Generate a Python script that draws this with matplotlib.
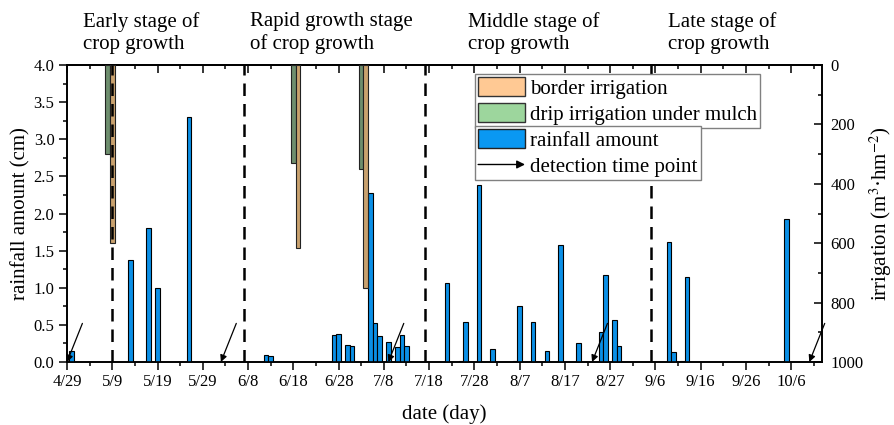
import numpy as np
import pandas as pd
import matplotlib
matplotlib.use('Agg')
import matplotlib.pyplot as plt
from matplotlib.patches import Patch, FancyArrowPatch
from matplotlib.legend_handler import HandlerBase
from matplotlib.ticker import MultipleLocator, FixedLocator, NullFormatter
import matplotlib.transforms as mtransforms

plt.rcParams['font.family'] = 'serif'
plt.rcParams['font.serif'] = ['Liberation Serif', 'DejaVu Serif']
plt.rcParams['mathtext.fontset'] = 'stix'

# daily rainfall (cm)
rain_dates = ['4/30', '5/13', '5/17', '5/19', '5/26', '6/12', '6/13', '6/27', '6/28',
              '6/30', '7/1', '7/5', '7/6', '7/7', '7/9', '7/11', '7/12', '7/13',
              '7/22', '7/25', '7/26', '7/29', '8/1', '8/6', '8/7', '8/10', '8/13',
              '8/16', '8/20', '8/25', '8/26', '8/28', '8/29', '9/9', '9/10', '9/12',
              '9/13', '10/5']
rain_cm = [0.15, 1.37, 1.80, 1.00, 3.30, 0.10, 0.08, 0.36, 0.38,
           0.23, 0.21, 2.27, 0.53, 0.35, 0.27, 0.20, 0.36, 0.21,
           1.06, 0.02, 0.54, 2.38, 0.18, 0.02, 0.75, 0.54, 0.15,
           1.58, 0.26, 0.40, 1.17, 0.57, 0.21, 1.61, 0.14, 0.01,
           1.14, 1.92]

# irrigation events (m3/hm2)
drip_dates = ['5/8', '6/18', '7/3']
drip_amount = [300, 330, 350]
border_dates = ['5/9', '6/19', '7/4']
border_amount = [600, 615, 750]

detect_dates = ['4/29', '6/2', '7/9', '8/23', '10/10']
stage_bounds = ['5/9', '6/7', '7/17', '9/5']
stage_names = ['Early stage of\ncrop growth', 'Rapid growth stage\nof crop growth',
               'Middle stage of\ncrop growth', 'Late stage of\ncrop growth']
tick_labels = ['4/29', '5/9', '5/19', '5/29', '6/8', '6/18', '6/28', '7/8', '7/18',
               '7/28', '8/7', '8/17', '8/27', '9/6', '9/16', '9/26', '10/6']

START = pd.Timestamp('2019-04-29')


def to_day(md):
    return (pd.to_datetime('2019/' + md, format='%Y/%m/%d') - START).days


def days(lst):
    return np.array([to_day(s) for s in lst])


class DetectionArrow:
    pass


class ArrowHandler(HandlerBase):
    def create_artists(self, legend, orig_handle, xdescent, ydescent,
                       width, height, fontsize, trans):
        y = height / 2 - ydescent
        arr = FancyArrowPatch((-xdescent, y), (width - xdescent, y),
                              arrowstyle='-|>', mutation_scale=12, color='k',
                              lw=1.0, shrinkA=0, shrinkB=0, transform=trans)
        return [arr]


fig = plt.figure(figsize=(8.94, 4.25), dpi=100)
ax = fig.add_axes([67 / 894, 63 / 425, 755 / 894, 297 / 425])
ax2 = ax.twinx()

# rainfall on the left axis
ax.bar(days(rain_dates), rain_cm, width=1.0, color='#0a8fe6',
       edgecolor='black', linewidth=0.8, zorder=3)

# irrigation hangs from the top on the inverted right axis
ax2.bar(days(drip_dates), drip_amount, width=1.0, color='#6e8e6e',
        edgecolor='#222222', linewidth=0.8, zorder=3)
ax2.bar(days(border_dates), border_amount, width=1.0, color='#c9a16e',
        edgecolor='#222222', linewidth=0.8, zorder=3)

# stage boundaries
for d in days(stage_bounds):
    ax2.axvline(d, color='black', lw=1.8, ls=(0, (5, 3.2)), zorder=4)

# detection time points
for d in days(detect_dates):
    ax.annotate('', xy=(d, 0), xytext=(d + 3.4, 0.52),
                arrowprops=dict(arrowstyle='-|>', color='black', lw=0.9,
                                mutation_scale=10, shrinkA=0, shrinkB=0),
                zorder=5)

# stage titles above the plot
stage_text_x = [3.5, 40.4, 88.6, 132.7]
trans = mtransforms.blended_transform_factory(ax.transData, ax.transAxes)
for x, name in zip(stage_text_x, stage_names):
    ax.text(x, 1.108, name, transform=trans, fontsize=15, ha='left', va='center',
            linespacing=1.18)

ax.set_xlim(0, 166.8)
ax.set_ylim(0, 4.0)
ax2.set_ylim(1000, 0)

ax.xaxis.set_major_locator(FixedLocator(days(tick_labels)))
ax.set_xticklabels(tick_labels)
ax.xaxis.set_minor_locator(MultipleLocator(5))
ax.yaxis.set_major_locator(MultipleLocator(0.5))
ax.yaxis.set_minor_locator(MultipleLocator(0.25))
ax.yaxis.set_major_formatter(matplotlib.ticker.FormatStrFormatter('%.1f'))
ax2.yaxis.set_major_locator(MultipleLocator(200))
ax2.yaxis.set_minor_locator(MultipleLocator(100))

ax.tick_params(which='major', direction='out', length=6, width=1.1, labelsize=12, pad=3)
ax.tick_params(which='minor', direction='out', length=3, width=1.1)
ax2.tick_params(which='major', direction='in', length=6, width=1.1, labelsize=12, pad=6)
ax2.tick_params(which='minor', direction='in', length=3, width=1.1)

top = ax.secondary_xaxis('top')
top.xaxis.set_major_locator(FixedLocator(days(tick_labels)))
top.xaxis.set_minor_locator(MultipleLocator(5))
top.xaxis.set_major_formatter(NullFormatter())
top.tick_params(which='major', direction='in', length=6, width=1.1)
top.tick_params(which='minor', direction='in', length=3, width=1.1)

for a in (ax, ax2):
    for s in a.spines.values():
        s.set_linewidth(1.2)
top.spines['top'].set_linewidth(1.2)

ax.set_xlabel('date (day)', fontsize=15, labelpad=10)
ax.set_ylabel('rainfall amount (cm)', fontsize=15, labelpad=2)
ax2.set_ylabel('irrigation (m$^{3}$·hm$^{-2}$)', fontsize=15, labelpad=3)

legend_style = dict(loc='upper left', bbox_transform=fig.transFigure, borderaxespad=0,
                    fontsize=15, handlelength=2.25, handleheight=1.0,
                    handletextpad=0.25, labelspacing=0.22, borderpad=0.15,
                    fancybox=False, edgecolor='#808080', framealpha=1)

leg1 = ax2.legend([Patch(fc='#ffc994', ec='#333333', lw=1.0),
                   Patch(fc='#9dd69d', ec='#333333', lw=1.0)],
                  ['border irrigation', 'drip irrigation under mulch'],
                  bbox_to_anchor=(475 / 894, 1 - 74 / 425), **legend_style)
leg1.get_frame().set_linewidth(1.0)
ax2.add_artist(leg1)

leg2 = ax2.legend([Patch(fc='#0a98f2', ec='#222222', lw=1.0), DetectionArrow()],
                  ['rainfall amount', 'detection time point'],
                  handler_map={DetectionArrow: ArrowHandler()},
                  bbox_to_anchor=(475 / 894, 1 - 126 / 425), **legend_style)
leg2.get_frame().set_linewidth(1.0)

fig.savefig('out.png', dpi=100)
